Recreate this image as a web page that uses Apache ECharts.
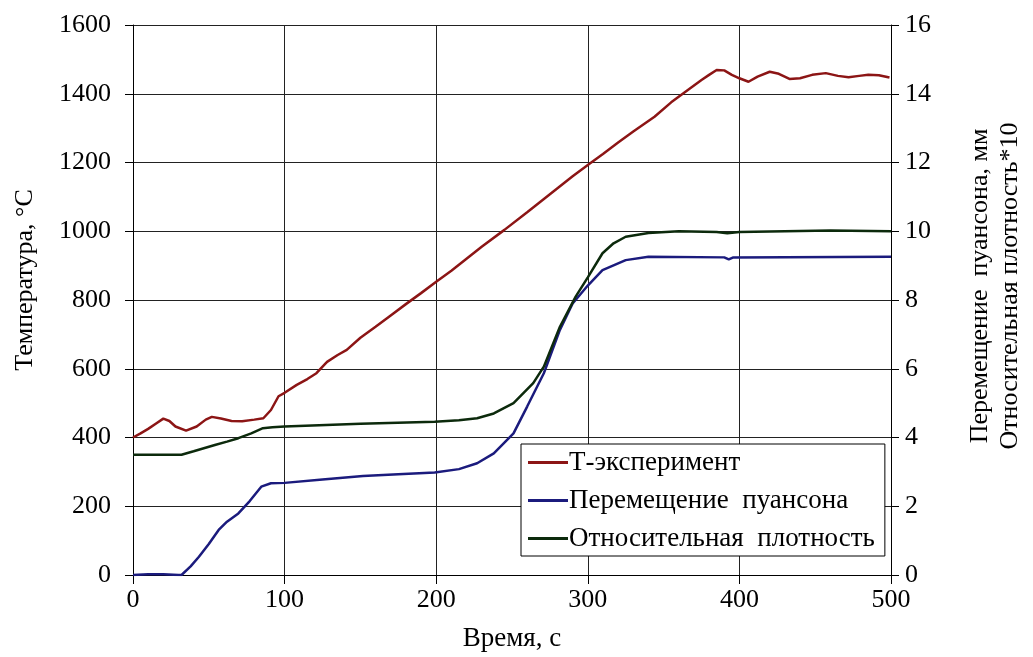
<!DOCTYPE html>
<html>
<head>
<meta charset="utf-8">
<script src="https://cdn.jsdelivr.net/npm/echarts@6/dist/echarts.min.js"></script>
<style>
  html, body { margin: 0; padding: 0; background: #fff; overflow: hidden; }
  #chart { width: 1033px; height: 657px; }
</style>
</head>
<body>
<div id="chart"></div>
<script>
// Температура (левая ось), время в секундах
var tempTime = [0, 5, 10, 15, 20, 24, 28, 35, 42, 48, 52, 58, 65, 72, 80, 86, 91, 96, 100, 108,
  115, 121, 128, 135, 141, 150, 160, 170, 180, 190, 200, 210, 220, 230, 245, 260, 270, 280, 290, 300,
  310, 320, 330, 344, 355, 366, 375, 380, 385, 390, 395, 400, 406, 412, 420, 426, 433, 440, 448, 457,
  465, 472, 479, 485, 492, 499];
var tempValues = [400, 412, 425, 440, 455, 448, 432, 420, 432, 452, 460, 455, 448, 447, 452, 456, 480, 520, 530, 553,
  570, 587, 620, 640, 655, 690, 722, 755, 788, 820, 853, 885, 920, 955, 1004, 1055, 1090, 1125, 1160, 1193,
  1225, 1258, 1290, 1333, 1375, 1411, 1440, 1455, 1469, 1468, 1455, 1445, 1435, 1450, 1464, 1458, 1443, 1445, 1455, 1460,
  1452, 1448, 1452, 1455, 1454, 1447];

// Перемещение пуансона, мм (правая ось)
var punchTime = [0, 10, 20, 30, 32, 38, 43.5, 50, 56.5, 62, 69.5, 77, 84.6, 91, 100, 125, 151.7, 175, 199, 215,
  227, 238, 251, 260, 271, 281.6, 290, 300, 309.7, 325, 340, 390, 393, 396, 500];
var punchValues = [0, 0.02, 0.02, 0, 0, 0.25, 0.53, 0.9, 1.31, 1.55, 1.79, 2.15, 2.57, 2.67, 2.68, 2.78, 2.88, 2.93, 2.98, 3.08,
  3.25, 3.54, 4.12, 4.9, 5.87, 7.13, 7.9, 8.42, 8.87, 9.16, 9.26, 9.24, 9.18, 9.24, 9.26];

// Относительная плотность *10 (правая ось)
var densTime = [0, 32, 40, 54, 62, 69.5, 78, 85.7, 92, 100, 150, 199, 215, 227, 238, 251, 264, 271, 281.6, 292,
  300, 309.7, 317, 325, 340, 360, 385, 392, 400, 430, 460, 500];
var densValues = [3.5, 3.5, 3.6, 3.78, 3.88, 3.98, 4.12, 4.27, 4.3, 4.32, 4.4, 4.46, 4.5, 4.56, 4.7, 5.0, 5.58, 6.06, 7.22, 8.1,
  8.66, 9.36, 9.65, 9.84, 9.95, 10.0, 9.98, 9.94, 9.98, 10.0, 10.02, 10.0];

var seriesNames = ['Т-эксперимент', 'Перемещение  пуансона', 'Относительная  плотность'];

function pairs(xs, ys) {
  return xs.map(function (x, i) { return [x, ys[i]]; });
}

var font = 'Liberation Serif';
var chart = echarts.init(document.getElementById('chart'));

var option = {
  backgroundColor: '#ffffff',
  animation: false,
  textStyle: { fontFamily: font, color: '#000' },
  grid: { left: 133, width: 770, top: 25, height: 550, containLabel: false },
  legend: {
    orient: 'vertical',
    left: 521,
    top: 444,
    padding: [5, 10, 4, 7],
    itemGap: 11,
    itemWidth: 40,
    itemHeight: 3,
    icon: 'rect',
    borderColor: '#000',
    borderWidth: 1,
    backgroundColor: '#fff',
    textStyle: { fontFamily: font, fontSize: 27, color: '#000', padding: [0, 0, 0, -4] },
    data: seriesNames
  },
  xAxis: {
    type: 'value',
    min: 0,
    max: 500,
    interval: 100,
    name: 'Время, с',
    nameLocation: 'middle',
    nameGap: 50,
    nameTextStyle: { fontFamily: font, fontSize: 27, color: '#000' },
    axisLine: { lineStyle: { color: '#000', width: 1 } },
    axisTick: { show: true, length: 9, lineStyle: { color: '#000' } },
    axisLabel: { fontFamily: font, fontSize: 26, color: '#000', margin: 12 },
    splitLine: { show: true, lineStyle: { color: '#222', width: 1 } }
  },
  yAxis: [
    {
      type: 'value',
      min: 0,
      max: 1600,
      interval: 200,
      position: 'left',
      name: 'Температура, °С',
      nameLocation: 'middle',
      nameGap: 95,
      nameTextStyle: { fontFamily: font, fontSize: 26, color: '#000', padding: [0, 0, 0, 40] },
      axisLine: { show: true, lineStyle: { color: '#000', width: 1 } },
      axisTick: { show: true, length: 8, lineStyle: { color: '#000' } },
      axisLabel: { fontFamily: font, fontSize: 26, color: '#000', margin: 22, formatter: function (v) { return String(v); } },
      splitLine: { show: true, lineStyle: { color: '#222', width: 1 } }
    },
    {
      type: 'value',
      min: 0,
      max: 16,
      interval: 2,
      position: 'right',
      name: 'Перемещение  пуансона, мм\nОтносительная плотность*10',
      nameLocation: 'middle',
      nameGap: 74,
      nameTextStyle: { fontFamily: font, fontSize: 26, color: '#000', lineHeight: 30, padding: [0, 0, 0, 28] },
      axisLine: { show: true, lineStyle: { color: '#000', width: 1 } },
      axisTick: { show: true, length: 8, lineStyle: { color: '#000' } },
      axisLabel: { fontFamily: font, fontSize: 26, color: '#000', margin: 14 },
      splitLine: { show: false }
    }
  ],
  series: [
    {
      name: seriesNames[0],
      type: 'line',
      yAxisIndex: 0,
      showSymbol: false,
      symbol: 'none',
      color: '#8c1515',
      lineStyle: { width: 2.5, color: '#8c1515' },
      data: pairs(tempTime, tempValues)
    },
    {
      name: seriesNames[1],
      type: 'line',
      yAxisIndex: 1,
      showSymbol: false,
      symbol: 'none',
      color: '#1b1b7d',
      lineStyle: { width: 2.5, color: '#1b1b7d' },
      data: pairs(punchTime, punchValues)
    },
    {
      name: seriesNames[2],
      type: 'line',
      yAxisIndex: 1,
      showSymbol: false,
      symbol: 'none',
      color: '#0c2a0c',
      lineStyle: { width: 2.5, color: '#0c2a0c' },
      data: pairs(densTime, densValues)
    }
  ]
};

chart.setOption(option);
</script>
</body>
</html>
